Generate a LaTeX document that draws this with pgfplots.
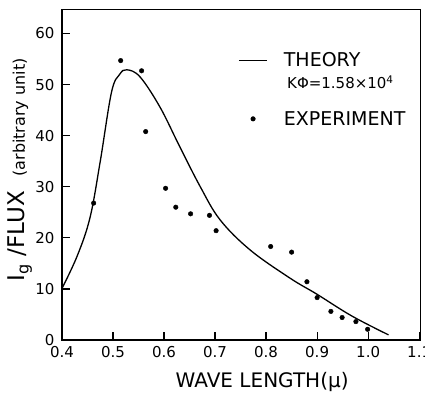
\documentclass[border=0pt]{standalone}
\usepackage{fontspec}
\setmainfont{DejaVu Sans}
\usepackage{pgfplots}
\pgfplotsset{compat=1.18}

\begin{document}
\begin{tikzpicture}
\begin{axis}[
    name=ax,
    scale only axis,
    width=358.7pt, height=330.5pt,
    xmin=0.4, xmax=1.103,
    ymin=0, ymax=64.7,
    xtick={0.4,0.5,0.6,0.7,0.8,0.9,1.0,1.1},
    xticklabels={0.4,0.5,0.6,0.7,0.8,0.9,1.0,1.1},
    ytick={0,10,20,30,40,50,60},
    tick pos=left,
    tick align=inside,
    major tick length=8pt,
    axis line style={line width=1.5pt},
    tick style={line width=1.2pt, black},
    /pgf/number format/assume math mode=true,
    ticklabel style={font=\fontsize{15}{18}\selectfont},
    xticklabel style={yshift=-3pt},
    yticklabel style={xshift=-4pt},
    xlabel={WAVE LENGTH(μ)},
    xlabel style={font=\fontsize{20}{24}\selectfont, at={(axis description cs:0.558,-0.127)}, anchor=center},
    ylabel={I\textsubscript{g} /FLUX \ {\fontsize{16}{19}\selectfont (arbitrary unit)}},
    ylabel style={font=\fontsize{23}{27}\selectfont, at={(axis description cs:-0.117,0.515)}, anchor=center},
    legend style={at={(axis cs:0.745,56.5)}, anchor=north west, draw=none, fill=none,
        inner sep=0pt, row sep=41pt, column sep=15pt,
        nodes={inner sep=1pt, anchor=west, font=\fontsize{19}{22}\selectfont}},
    legend cell align=left,
]
% theory curve
\addplot[black, line width=1.3pt, smooth, tension=0.6, forget plot] coordinates {
    (0.400,10.1) (0.430,16.5) (0.455,24.0) (0.475,35.0) (0.497,48.5)
    (0.513,52.0) (0.527,52.9) (0.553,51.5) (0.592,45.6) (0.630,38.0)
    (0.671,30.0) (0.710,23.5) (0.769,17.6) (0.847,12.1) (0.899,9.0)
    (0.968,4.7) (1.040,1.0)
};
% experiment
\addplot[only marks, mark=*, mark size=2.3pt, black, forget plot] coordinates {
    (0.462,26.8) (0.515,54.7) (0.556,52.7) (0.564,40.8) (0.603,29.7)
    (0.623,26.0) (0.652,24.7) (0.689,24.4) (0.702,21.4) (0.809,18.3)
    (0.850,17.2) (0.880,11.4) (0.900,8.3) (0.927,5.6) (0.949,4.4)
    (0.976,3.6) (0.999,2.1)
};
\addlegendimage{legend image code/.code={\draw[black, line width=1.2pt] (0cm,0cm) -- (1cm,0cm);}}
\addlegendentry{THEORY}
\addlegendimage{legend image code/.code={\fill[black] (0.5cm,0cm) circle[radius=2.3pt];}}
\addlegendentry{EXPERIMENT}
\node[anchor=west, inner sep=0pt, font=\fontsize{15}{18}\selectfont] at (axis cs:0.841,50.5) {KΦ=1.58×10\textsuperscript{4}};
\end{axis}
\pgfresetboundingbox
\path[use as bounding box] (-62pt,-63pt) rectangle (363pt,340pt);
\end{tikzpicture}
\end{document}
